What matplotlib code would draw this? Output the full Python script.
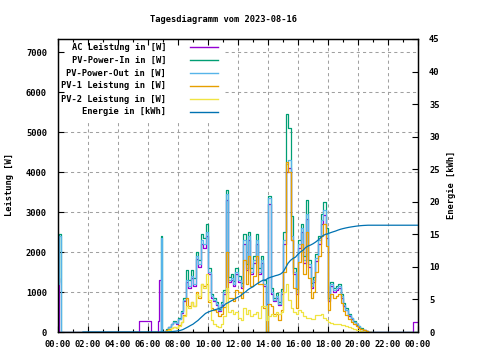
import numpy as np
import matplotlib
matplotlib.use('Agg')
import matplotlib.pyplot as plt
from matplotlib.patches import Rectangle

plt.rcParams['font.family'] = 'DejaVu Sans Mono'
plt.rcParams['font.size'] = 6.3
plt.rcParams['font.weight'] = 'bold'

title = "Tagesdiagramm vom 2023-08-16"
labels = ["AC Leistung in [W]", "PV-Power-In in [W]", "PV-Power-Out in [W]",
          "PV-1 Leistung in [W]", "PV-2 Leistung in [W]", "Energie in [kWh]"]
colors = ['#9400d3', '#009e73', '#56b4e9', '#e69f00', '#f0e442', '#0072b2']

# daytime samples, every 10 minutes starting 07:00 (one row per hour)
day_start = "07:00"
step_min = 10

ac_day = [0, 55, 115, 190, 240, 210,
          320, 480, 770, 1250, 1100, 1350,
          1150, 1820, 1630, 2200, 2100, 2400,
          1440, 860, 770, 670, 530, 670,
          960, 3300, 1250, 1300, 1150, 1440,
          1250, 1100, 2200, 1540, 2300, 1440,
          1730, 2200, 1440, 1730, 1150, 700,
          3200, 960, 770, 860, 670, 960,
          2200, 4000, 4100, 2300, 1440, 960,
          2100, 2500, 1730, 2830, 1630, 1100,
          1250, 1780, 2200, 2700, 2930, 2350,
          770, 1150, 1000, 1060, 1100, 860,
          650, 540, 410, 330, 250, 180,
          135, 80, 52, 24, 10, 0]

pv_in_day = [0, 65, 130, 210, 265, 235,
             350, 530, 850, 1550, 1300, 1550,
             1350, 2000, 1800, 2450, 2350, 2700,
             1600, 950, 850, 740, 580, 740,
             1060, 3550, 1380, 1450, 1270, 1600,
             1400, 1220, 2450, 1700, 2500, 1600,
             1900, 2450, 1600, 1900, 1300, 0,
             3400, 1100, 860, 970, 760, 1080,
             2500, 5450, 5100, 2900, 1600, 1080,
             2300, 2700, 1900, 3300, 1800, 1220,
             1380, 1950, 2400, 2950, 3260, 2600,
             850, 1260, 1110, 1160, 1210, 950,
             720, 590, 455, 360, 275, 200,
             150, 90, 58, 28, 12, 0]

pv_out_day = [0, 60, 120, 200, 250, 220,
              330, 500, 800, 1300, 1150, 1400,
              1200, 1900, 1700, 2300, 2200, 2500,
              1500, 900, 800, 700, 550, 700,
              1000, 3450, 1300, 1350, 1200, 1500,
              1300, 1150, 2300, 1600, 2400, 1500,
              1800, 2300, 1500, 1800, 1200, 0,
              3350, 1000, 800, 900, 700, 1000,
              2300, 4200, 4300, 2400, 1500, 1000,
              2200, 2600, 1800, 2950, 1700, 1150,
              1300, 1850, 2300, 2800, 3050, 2450,
              800, 1200, 1050, 1100, 1150, 900,
              680, 560, 430, 340, 260, 190,
              140, 85, 55, 25, 10, 0]

pv1_day = [0, 40, 70, 100, 130, 110,
           170, 260, 420, 850, 650, 750,
           650, 1000, 850, 1200, 1150, 1200,
           750, 600, 550, 500, 400, 450,
           620, 2000, 850, 850, 780, 1050,
           1000, 850, 1800, 1200, 1900, 1150,
           1400, 1900, 1200, 1200, 600, 0,
           700, 650, 450, 450, 300, 550,
           1500, 4250, 4000, 2300, 1100, 600,
           1750, 2200, 1450, 2500, 1350, 850,
           1000, 1500, 1900, 2400, 2700, 2150,
           550, 950, 850, 900, 950, 720,
           530, 430, 320, 250, 190, 140,
           110, 70, 50, 25, 10, 0]

pv2_day = [0, 20, 60, 100, 120, 110,
           160, 250, 400, 650, 600, 750,
           650, 950, 900, 1200, 1100, 1450,
           800, 300, 200, 150, 120, 200,
           400, 1100, 500, 550, 450, 500,
           350, 300, 600, 450, 550, 400,
           450, 500, 350, 650, 650, 300,
           400, 450, 400, 500, 450, 500,
           1000, 1200, 800, 600, 500, 450,
           550, 500, 400, 350, 350, 320,
           320, 420, 420, 450, 350, 300,
           250, 220, 200, 200, 190, 180,
           170, 150, 130, 110, 80, 60,
           40, 15, 5, 0, 0, 0]

energy_day = [0, 0, 0.02, 0.05, 0.08, 0.12,
              0.18, 0.25, 0.38, 0.58, 0.78, 1.0,
              1.2, 1.5, 1.78, 2.15, 2.5, 2.85,
              3.05, 3.2, 3.33, 3.45, 3.55, 3.7,
              3.88, 4.3, 4.5, 4.72, 4.92, 5.15,
              5.35, 5.55, 5.9, 6.15, 6.5, 6.75,
              6.95, 7.25, 7.5, 7.75, 7.95, 8.0,
              8.25, 8.4, 8.52, 8.65, 8.75, 8.9,
              9.2, 9.85, 10.55, 11.0, 11.3, 11.5,
              11.95, 12.3, 12.55, 12.95, 13.2, 13.35,
              13.55, 13.8, 14.1, 14.45, 14.8, 15.0,
              15.1, 15.25, 15.38, 15.5, 15.65, 15.78,
              15.88, 15.97, 16.05, 16.12, 16.18, 16.24,
              16.29, 16.33, 16.36, 16.38, 16.4, 16.4]

# night / edge readings (value holds until next time)
ac_early_t = ["00:00", "00:05", "05:25", "06:10", "06:40", "06:45", "06:50"]
ac_early = [1350, 0, 280, 0, 280, 1300, 0]
ac_late_t = ["23:40", "24:00"]
ac_late = [260, 260]

pv_in_early_t = ["00:00", "00:05", "00:10", "06:50", "06:55"]
pv_in_early = [1250, 2450, 0, 2400, 0]
pv_out_early_t = ["00:00", "00:05", "00:10", "06:50", "06:55"]
pv_out_early = [1200, 2400, 0, 2350, 0]
pv_late_t = ["24:00"]
pv_late = [0]

energy_early_t = ["01:40"]
energy_early = [0]
energy_late_t = ["24:00"]
energy_late = [16.4]


def hrs(s):
    h, m = s.split(':')
    return int(h) + int(m) / 60


t0 = hrs(day_start)
day_x = [t0 + i * step_min / 60 for i in range(len(pv_out_day))]


def series(early_t, early_v, day_v, late_t, late_v):
    x = [hrs(t) for t in early_t] + day_x + [hrs(t) for t in late_t]
    return x, list(early_v) + list(day_v) + list(late_v)


fig = plt.figure(figsize=(4.8, 3.6), dpi=100)
ax = fig.add_axes([58 / 480, 28 / 360, 360 / 480, 293 / 360])
ax2 = ax.twinx()

ymax = 7325
ax.set_xlim(0, 24)
ax.set_ylim(0, ymax)
ax2.set_ylim(0, 45)

# grid, kept clear of the legend box
leg_right = 11.1
leg_bottom = 5300
gcol = '#a0a0a0'
for h in range(2, 24, 2):
    top = leg_bottom if h < leg_right else ymax
    ax.plot([h, h], [0, top], color=gcol, lw=0.75, ls=(0, (3, 3)), zorder=0.5)
for v in range(1000, 8000, 1000):
    x0 = leg_right if v > leg_bottom else 0
    ax.plot([x0, 24], [v, v], color=gcol, lw=0.75, ls=(0, (3, 3)), zorder=0.5)

lw = 0.9
x, y = series(ac_early_t, ac_early, ac_day, ac_late_t, ac_late)
ax.step(x, y, where='post', color=colors[0], lw=lw)
x, y = series(pv_in_early_t, pv_in_early, pv_in_day, pv_late_t, pv_late)
ax.step(x, y, where='post', color=colors[1], lw=lw)
x, y = series(pv_out_early_t, pv_out_early, pv_out_day, pv_late_t, pv_late)
ax.step(x, y, where='post', color=colors[2], lw=lw)
ax.step(day_x, pv1_day, where='post', color=colors[3], lw=lw)
ax.step(day_x, pv2_day, where='post', color=colors[4], lw=lw)
x, y = series(energy_early_t, energy_early, energy_day, energy_late_t, energy_late)
ax2.plot(x, y, color=colors[5], lw=lw)

# ticks
ax.set_xticks(range(0, 25, 2))
ax.set_xticklabels([f"{h % 24:02d}:00" for h in range(0, 25, 2)])
ax.set_xticks(range(1, 24, 2), minor=True)
ax.set_yticks(range(0, 8000, 1000))
ax.tick_params(axis='x', which='major', direction='in', length=4, width=0.8,
               top=False, pad=6)
ax.tick_params(axis='x', which='minor', direction='in', length=2, width=0.8, top=False)
ax.tick_params(axis='y', direction='in', length=4, width=0.8, right=False, pad=8)
ax2.set_yticks(range(0, 50, 5))
ax2.tick_params(axis='y', direction='in', length=4, width=0.8, pad=8)
ax2.xaxis.set_visible(True)
ax2.set_xticks(range(0, 25, 2))
ax2.set_xticks(range(1, 24, 2), minor=True)
ax2.tick_params(axis='x', which='both', bottom=False, labelbottom=False, top=True,
                labeltop=False, direction='in', width=0.8)
ax2.tick_params(axis='x', which='major', length=4)
ax2.tick_params(axis='x', which='minor', length=2)
for a in (ax, ax2):
    for s in a.spines.values():
        s.set_linewidth(0.9)

# legend, gnuplot style: text right aligned, sample on the right
for i, (lab, c) in enumerate(zip(labels, colors)):
    ypx = 47 + i * 13
    fy = 1 - ypx / 360
    fig.text(166 / 480, fy, lab, ha='right', va='center')
    fig.add_artist(plt.Line2D([190 / 480, 218 / 480], [fy, fy], color=c, lw=1.0))

fig.text(223 / 480, 1 - 20 / 360, title, ha='center', va='center')
fig.text(10 / 480, 1 - 185 / 360, "Leistung [W]", rotation=90, ha='center', va='center')
fig.text(452 / 480, 1 - 185 / 360, "Energie [kWh]", rotation=90, ha='center', va='center')

fig.savefig('out.png', dpi=100)
